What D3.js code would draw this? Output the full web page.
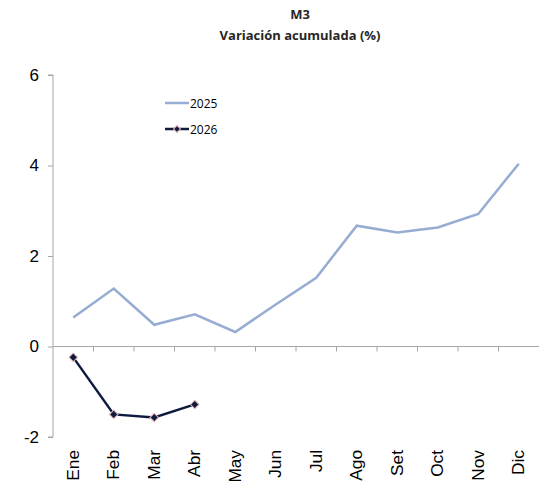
<!DOCTYPE html>
<html><head><meta charset="utf-8">
<script src="https://cdn.jsdelivr.net/npm/d3@7"></script>
<style>body{margin:0;background:#fff}svg{display:block}</style>
</head><body>
<svg id="c" width="539" height="487"></svg>
<script>
const months = ["Ene","Feb","Mar","Abr","May","Jun","Jul","Ago","Set","Oct","Nov","Dic"];
const values2025 = [0.64, 1.28, 0.48, 0.71, 0.32, 0.93, 1.52, 2.67, 2.52, 2.63, 2.93, 4.04];
const values2026 = [-0.24, -1.5, -1.57, -1.28];
const yTicks = [-2, 0, 2, 4, 6];
const titleLines = ["M3", "Variación acumulada (%)"];
const seriesNames = ["2025", "2026"];

(function () {
const svg = d3.select("#c");
const mLeft = 53, mRight = 539, mTop = 75, mBottom = 437;
const x = d3.scaleBand().domain(months).range([mLeft, mRight]).padding(0);
const y = d3.scaleLinear().domain([-2, 6]).range([mBottom, mTop]);
const axisColor = "#a6a6a6";

// title
svg.append("g").selectAll("text").data(titleLines).join("text")
  .attr("x", 300).attr("y", (d, i) => 19 + i * 21)
  .attr("text-anchor", "middle")
  .attr("font-family", "'Open Sans', 'Liberation Sans', sans-serif")
  .attr("font-weight", "bold").attr("font-size", 13).attr("fill", "#262626")
  .text(d => d);

// y axis
const yAxis = svg.append("g").attr("transform", `translate(${mLeft},0)`)
  .call(d3.axisLeft(y).tickValues(yTicks).tickSize(5).tickPadding(9).tickFormat(d => String(d)));
yAxis.select(".domain").attr("stroke", axisColor).attr("d", `M-5,${y(6)}H0V${y(-2)}H-5`);
yAxis.selectAll(".tick line").attr("stroke", axisColor);
yAxis.selectAll(".tick text").attr("font-family", "'Liberation Sans', Arial, sans-serif")
  .attr("font-size", 17).attr("fill", "#000");

// x axis at y=0
const xAxis = svg.append("g").attr("transform", `translate(0,${y(0)})`)
  .call(d3.axisBottom(x).tickSize(0).tickFormat(""));
xAxis.select(".domain").attr("stroke", axisColor).attr("d", `M${mLeft},0H${mRight}`);
xAxis.selectAll(".tick").remove();
svg.append("g").selectAll("line").data(months.slice(1)).join("line")
  .attr("x1", d => x(d)).attr("x2", d => x(d))
  .attr("y1", y(0)).attr("y2", y(0) + 5)
  .attr("stroke", axisColor);

// month labels
svg.append("g").selectAll("text").data(months).join("text")
  .attr("transform", d => `translate(${x(d) + x.bandwidth() / 2 + 5.5},450) rotate(-90) scale(1.08,1)`)
  .attr("text-anchor", "end")
  .attr("font-family", "'Liberation Sans', Arial, sans-serif")
  .attr("font-size", 16).attr("fill", "#000")
  .text(d => d);

const cx = i => x(months[i]) + x.bandwidth() / 2;
const line = d3.line().x((d, i) => cx(i)).y(d => y(d));

svg.append("path").datum(values2025).attr("d", line)
  .attr("fill", "none").attr("stroke", "#97acd3").attr("stroke-width", 2.5);

svg.append("path").datum(values2026).attr("d", line)
  .attr("fill", "none").attr("stroke", "#0e1a3e").attr("stroke-width", 2.5);

svg.append("g").selectAll("path").data(values2026).join("path")
  .attr("d", d3.symbol().type(d3.symbolSquare).size(36))
  .attr("transform", (d, i) => `translate(${cx(i)},${y(d)}) rotate(45)`)
  .attr("fill", "#0e1a3e").attr("stroke", "#e8b4b4").attr("stroke-width", 1);

// legend
const lg = svg.append("g");
const legY = [103, 129];
lg.selectAll("line").data(seriesNames).join("line")
  .attr("x1", 165).attr("x2", 189).attr("y1", (d, i) => legY[i]).attr("y2", (d, i) => legY[i])
  .attr("stroke", (d, i) => i ? "#0e1a3e" : "#97acd3").attr("stroke-width", 2.5);
lg.append("path").attr("d", d3.symbol().type(d3.symbolSquare).size(24))
  .attr("transform", `translate(177,${legY[1]}) rotate(45)`)
  .attr("fill", "#0e1a3e").attr("stroke", "#e8b4b4").attr("stroke-width", 1);
lg.selectAll("text").data(seriesNames).join("text")
  .attr("x", 190).attr("y", (d, i) => legY[i] + 4.5)
  .attr("font-family", "'Open Sans', 'Liberation Sans', sans-serif")
  .attr("font-size", 12).attr("fill", "#000")
  .text(d => d);
})();
</script>
</body></html>
